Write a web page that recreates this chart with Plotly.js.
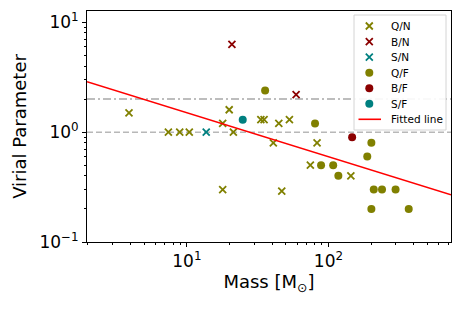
<!DOCTYPE html>
<html><head><meta charset="utf-8">
<script src="https://cdn.plot.ly/plotly-3.0.1.min.js"></script>
<style>html,body{margin:0;padding:0;background:#fff}#chart{width:463px;height:309px}</style>
</head><body><div id="chart"></div>
<script>
// Data
const qnMass  = [3.9, 7.4, 8.9, 10.4, 19.9, 17.9, 21.3, 17.9, 33.3, 35.1, 44.6, 53.0, 40.8, 83.1, 74.5, 46.8, 144];
const qnAlpha = [1.5, 1.0, 1.0, 1.0, 1.6, 1.2, 1.0, 0.3, 1.3, 1.3, 1.2, 1.3, 0.8, 0.8, 0.5, 0.29, 0.4];
const bnMass  = [20.8, 59.1];
const bnAlpha = [6.3, 2.2];
const snMass  = [13.7];
const snAlpha = [1.0];
const qfMass  = [35.7, 80.4, 88.7, 108, 117.5, 201, 188, 209, 239, 298, 201, 369];
const qfAlpha = [2.4, 1.2, 0.5, 0.5, 0.4, 0.8, 0.6, 0.3, 0.3, 0.3, 0.2, 0.2];
const bfMass  = [147];
const bfAlpha = [0.9];
const sfMass  = [24.8];
const sfAlpha = [1.3];
const fitMass  = [1.97, 734];
const fitAlpha = [2.88, 0.269];
const refLevels = [2, 1];
const seriesNames = ['Q/N', 'B/N', 'S/N', 'Q/F', 'B/F', 'S/F', 'Fitted line'];
const yTickVals = [0.1, 1, 10];
const yTickText = ['10<sup>\u22121</sup>', '10<sup>0</sup>', '10<sup>1</sup>'];
const xTickVals = [10, 100];
const xTickText = ['10<sup>1</sup>', '10<sup>2</sup>'];

const OLIVE = '#808000', DARKRED = '#8b0000', TEAL = '#008080';
const FONT = 'DejaVu Sans, sans-serif';

// plot area geometry (pixels)
const W = 463, H = 309, ML = 87, MR = 12, MT = 11, MB = 67;
const PW = W - ML - MR, PH = H - MT - MB;
const px = v => (v - ML) / PW;
const py = v => (H - MB - v) / PH;

const styles = [
  {kind: 'x', color: OLIVE}, {kind: 'x', color: DARKRED}, {kind: 'x', color: TEAL},
  {kind: 'o', color: OLIVE}, {kind: 'o', color: DARKRED}, {kind: 'o', color: TEAL},
  {kind: 'line', color: 'red'}
];

function markerFor(s) {
  if (s.kind === 'x') return {symbol: 'x-thin', size: 7, color: s.color, line: {color: s.color, width: 1.8}};
  return {symbol: 'circle', size: 8, color: s.color, line: {width: 0}};
}

const dataX = [qnMass, bnMass, snMass, qfMass, bfMass, sfMass];
const dataY = [qnAlpha, bnAlpha, snAlpha, qfAlpha, bfAlpha, sfAlpha];

const traces = dataX.map((xs, i) => ({
  x: xs, y: dataY[i], name: seriesNames[i], type: 'scatter', mode: 'markers',
  marker: markerFor(styles[i]), showlegend: false
}));
traces.push({x: fitMass, y: fitAlpha, name: seriesNames[6], type: 'scatter', mode: 'lines',
  line: {color: 'red', width: 1.6}, showlegend: false});

// custom legend (matplotlib-like compact spacing)
const LEG = {left: 354, right: 446, top: 15, bottom: 130, row0: 26, step: 15.55, mark: 369.3, text: 389, lineL: 358.5, lineR: 381};
const annotations = [];
seriesNames.forEach((name, i) => {
  const ry = py(LEG.row0 + i * LEG.step);
  const s = styles[i];
  if (s.kind === 'line') {
    traces.push({x: [px(LEG.lineL), px(LEG.lineR)], y: [ry, ry], xaxis: 'x2', yaxis: 'y2',
      type: 'scatter', mode: 'lines', line: {color: s.color, width: 1.6}, showlegend: false, cliponaxis: false, hoverinfo: 'skip'});
  } else {
    traces.push({x: [px(LEG.mark)], y: [ry], xaxis: 'x2', yaxis: 'y2', type: 'scatter', mode: 'markers',
      marker: markerFor(s), showlegend: false, cliponaxis: false, hoverinfo: 'skip'});
  }
  annotations.push({xref: 'paper', yref: 'paper', x: px(LEG.text), y: ry, xanchor: 'left', yanchor: 'middle',
    text: name, showarrow: false, font: {family: FONT, size: 10.5, color: '#000'}});
});

function minorTicks(d0, d1) {
  const out = [];
  for (let d = d0; d <= d1; d++) for (let k = 2; k <= 9; k++) out.push(k * Math.pow(10, d));
  return out;
}

const axisCommon = {
  type: 'log', showgrid: false, zeroline: false,
  showline: true, linecolor: '#000', linewidth: 1, mirror: true,
  ticks: 'outside', ticklen: 4, tickwidth: 1, tickcolor: '#000',
  tickmode: 'array',
  tickfont: {family: FONT, size: 17, color: '#000'}
};

const layout = {
  width: W, height: H,
  margin: {l: ML, r: MR, t: MT, b: MB},
  paper_bgcolor: '#fff', plot_bgcolor: '#fff',
  font: {family: FONT, color: '#000'},
  showlegend: false,
  xaxis: Object.assign({}, axisCommon, {
    range: [Math.log10(fitMass[0]), Math.log10(fitMass[1])],
    tickvals: xTickVals, ticktext: xTickText,
    minor: {tickmode: 'array', tickvals: minorTicks(0, 2), ticks: 'outside', ticklen: 2, tickwidth: 1, tickcolor: '#000'},
    title: {text: 'Mass [M<sub>\u2299</sub>]', font: {family: FONT, size: 18}, standoff: 4}
  }),
  yaxis: Object.assign({}, axisCommon, {
    range: [-1, 1.103],
    tickvals: yTickVals, ticktext: yTickText,
    minor: {tickmode: 'array', tickvals: minorTicks(-1, 1), ticks: 'outside', ticklen: 2, tickwidth: 1, tickcolor: '#000'},
    title: {text: 'Virial Parameter', font: {family: FONT, size: 18}, standoff: 8}
  }),
  xaxis2: {overlaying: 'x', range: [0, 1], visible: false, fixedrange: true},
  yaxis2: {overlaying: 'y', range: [0, 1], visible: false, fixedrange: true},
  shapes: [
    {type: 'line', xref: 'paper', x0: 0, x1: 1, yref: 'y', y0: refLevels[0], y1: refLevels[0],
     line: {color: '#a8a8a8', width: 1.5, dash: '8px,3px,2px,3px'}, layer: 'below'},
    {type: 'line', xref: 'paper', x0: 0, x1: 1, yref: 'y', y0: refLevels[1], y1: refLevels[1],
     line: {color: '#b8b8b8', width: 1.5, dash: '6px,3px'}, layer: 'below'},
    {type: 'rect', xref: 'paper', yref: 'paper', x0: px(LEG.left), x1: px(LEG.right), y0: py(LEG.bottom), y1: py(LEG.top),
     line: {color: '#d4d4d4', width: 1}, fillcolor: 'rgba(255,255,255,0.9)', layer: 'below'}
  ],
  annotations
};

Plotly.newPlot('chart', traces, layout, {staticPlot: true, displayModeBar: false});
</script>
</body></html>
